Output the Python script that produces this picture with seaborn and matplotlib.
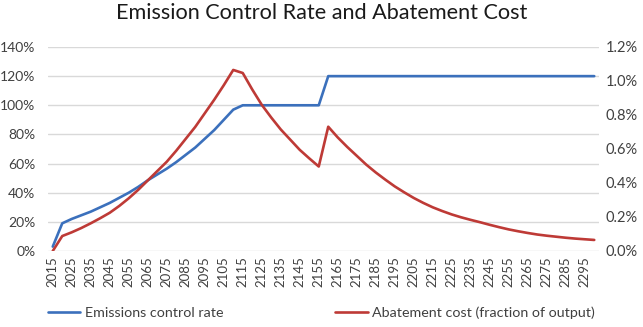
import numpy as np
import pandas as pd
import matplotlib
matplotlib.use("Agg")
import matplotlib.pyplot as plt
import seaborn as sns
from matplotlib.ticker import FuncFormatter

# datos (pasos de 5 anios)
years = list(range(2015, 2301, 5))

control_rate = [
    3, 19, 22, 24.5, 27, 30, 33, 36.5, 40, 44,
    48.5, 52.5, 56.5, 61, 66, 71, 77, 83, 90, 97,
    100, 100, 100, 100, 100, 100, 100, 100, 100,
    120, 120, 120, 120, 120, 120, 120, 120, 120, 120,
    120, 120, 120, 120, 120, 120, 120, 120, 120, 120,
    120, 120, 120, 120, 120, 120, 120, 120, 120,
]

abatement_cost = [
    0.0, 0.088, 0.110, 0.135, 0.163, 0.193, 0.225, 0.265, 0.310, 0.360,
    0.415, 0.470, 0.525, 0.590, 0.660, 0.730, 0.810, 0.890, 0.975, 1.065,
    1.047, 0.950, 0.860, 0.785, 0.715, 0.655, 0.595, 0.545, 0.497,
    0.731, 0.668, 0.612, 0.560, 0.508, 0.462, 0.420, 0.380, 0.345, 0.312,
    0.283, 0.257, 0.235, 0.215, 0.198, 0.183, 0.169, 0.154, 0.140, 0.127,
    0.116, 0.106, 0.097, 0.090, 0.084, 0.078, 0.073, 0.069, 0.065,
]

left_ticks = [0, 20, 40, 60, 80, 100, 120, 140]
right_ticks = [0.0, 0.2, 0.4, 0.6, 0.8, 1.0, 1.2]

BLUE = "#3B70BC"
RED = "#BE3A36"

df = pd.DataFrame({
    "idx": np.arange(len(years)),
    "year": years,
    "control": control_rate,
    "cost": abatement_cost,
})

sns.set_style("white")
plt.rcParams["font.family"] = ["Lato", "DejaVu Sans"]

fig = plt.figure(figsize=(6.43, 3.27), dpi=100)
ax = fig.add_axes([48 / 643, 1 - 251 / 327, 551 / 643, 204 / 327])
ax2 = ax.twinx()

sns.lineplot(data=df, x="idx", y="control", color=BLUE, linewidth=1.9,
             ax=ax, label="Emissions control rate", legend=False)
sns.lineplot(data=df, x="idx", y="cost", color=RED, linewidth=1.9,
             ax=ax2, label="Abatement cost (fraction of output)", legend=False)

ax.set_xlim(-0.5, len(years) - 0.5)
ax.set_ylim(0, 140)
ax2.set_ylim(0, 1.2)
ax.set_yticks(left_ticks)
ax2.set_yticks(right_ticks)
ax.yaxis.set_major_formatter(FuncFormatter(lambda v, p: f"{v:.0f}%"))
ax2.yaxis.set_major_formatter(FuncFormatter(lambda v, p: f"{v:.1f}%"))

ax.set_xticks(df["idx"][::2])
ax.set_xticklabels(df["year"][::2], rotation=90)

ax.grid(axis="y", color="#D9D9D9", linewidth=1.0)
ax.set_axisbelow(True)
for a in (ax, ax2):
    for s in a.spines.values():
        s.set_visible(False)
    a.set_xlabel("")
    a.set_ylabel("")
ax.tick_params(axis="y", length=0, pad=9, labelsize=10, labelcolor="#404040")
ax2.tick_params(axis="y", length=0, pad=5, labelsize=10.5, labelcolor="#404040")
ax.tick_params(axis="x", length=0, pad=4, labelsize=9.5, labelcolor="#404040")

fig.suptitle("Emission Control Rate and Abatement Cost", y=0.99,
             fontsize=15.6, color="#1a1a1a")

handles = ax.get_lines()[:1] + ax2.get_lines()[:1]
labels = ["Emissions control rate", "Abatement cost (fraction of output)"]
fig.legend(handles, labels, loc="lower right", ncol=2, frameon=False,
           bbox_to_anchor=(0.945, -0.015), fontsize=10.3, columnspacing=7.8,
           handlelength=2.3, handletextpad=0.3, labelcolor="#404040")

fig.savefig("out.png", dpi=100)
